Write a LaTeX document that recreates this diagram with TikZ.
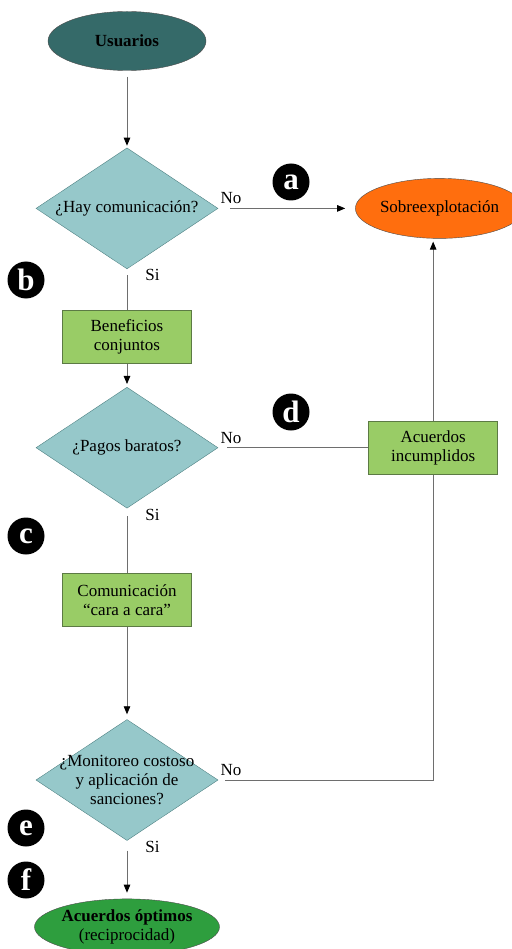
\documentclass[tikz,border=0pt]{standalone}
\usepackage{fontspec}
\setmainfont{Liberation Serif}
\usepackage{tikz}
\usetikzlibrary{arrows.meta,positioning,shapes.geometric}
\usepackage{xcolor}
\definecolor{UserTeal}{HTML}{356A69}
\definecolor{AskBlue}{HTML}{96C8CA}
\definecolor{AskEdge}{HTML}{4F8183}
\definecolor{StepGreen}{HTML}{99CC66}
\definecolor{StepEdge}{HTML}{5C7A44}
\definecolor{OverOrange}{HTML}{FF6E0E}
\definecolor{GoodGreen}{HTML}{2E9E3E}
\definecolor{LinkGray}{HTML}{6E6E6E}

\tikzset{
  terminal/.style={draw=black!70,ellipse,inner sep=0pt,minimum width=158pt,minimum height=59pt,align=center},
  decision/.style={draw=AskEdge,diamond,aspect=1.5,fill=AskBlue,inner sep=-10pt,minimum width=182pt,minimum height=121pt,align=center},
  stepbox/.style={draw=StepEdge,line width=0.9pt,fill=StepGreen,minimum width=129pt,minimum height=53pt,align=center},
  badge/.style={circle,fill=black,text=white,inner sep=0pt,minimum size=37pt,font=\fontsize{31}{31}\selectfont\bfseries},
  link/.style={draw=LinkGray,line width=0.8pt},
  flow/.style={link,-{Triangle[length=8pt,width=6.5pt,color=black]}},
  labelSi/.style={pos=0,anchor=north west,xshift=18pt,inner sep=0pt},
  labelNo/.style={pos=0,anchor=south west,xshift=2pt,yshift=4pt,inner sep=0pt}
}

\begin{document}
\begin{tikzpicture}[x=1pt,y=-1pt,every node/.style={font=\fontsize{17}{19}\selectfont}]
\useasboundingbox (0,0) rectangle (511,949);
\node[terminal,fill=UserTeal,font=\fontsize{17}{19}\selectfont\bfseries] (usr) at (127,41) {Usuarios};
\node[decision,below=77pt of usr] (com) {¿Hay comunicación?};
\node[terminal,fill=OverOrange,minimum width=156pt,minimum height=60pt,right=137pt of com] (over) {Sobreexplotación};
\node[stepbox,below=41pt of com] (ben) {Beneficios\\conjuntos};
\node[decision,below=23pt of ben] (pay) {¿Pagos baratos?};
\node[stepbox,right=150pt of pay] (broke) {Acuerdos\\incumplidos};
\node[stepbox,below=65pt of pay] (face) {Comunicación\\“cara a cara”};
\node[decision,below=92pt of face] (mon) {¿Monitoreo costoso\\y aplicación de\\sanciones?};
\node[terminal,fill=GoodGreen,minimum height=56pt,below=58pt of mon] (best) {\textbf{Acuerdos óptimos}\\(reciprocidad)};
% letter marks
\node[badge] (ma) at (291,182) {a};
\node[badge] (mb) at (26,280) {b};
\node[badge] (mc) at (26,536) {c};
\node[badge] (md) at (291,412) {d};
\node[badge] (me) at (26,828) {e};
\node[badge] (mf) at (26,880) {f};
% connectors
\draw[flow,shorten <=6pt,shorten >=2pt] (usr) -- (com);
\draw[flow,shorten <=12pt,shorten >=10pt] (com) -- node[labelNo] {No} (over);
\draw[link,shorten <=6pt] (com) -- node[labelSi] {Si} (ben);
\draw[flow,shorten >=3pt] (ben) -- (pay);
\draw[link,shorten <=9pt] (pay) -- node[labelNo] {No} (broke);
\draw[flow,shorten >=3pt] (broke) -- (over.south -| broke);
\draw[link,shorten <=8pt] (pay) -- node[labelSi] {Si} (face);
\draw[flow,shorten >=5pt] (face) -- (mon);
\draw[link,shorten <=7pt] (mon.east) -| node[labelNo] {No} (broke.south);
\draw[flow,shorten <=10pt,shorten >=6pt] (mon) -- node[labelSi] {Si} (best);
\end{tikzpicture}
\end{document}
